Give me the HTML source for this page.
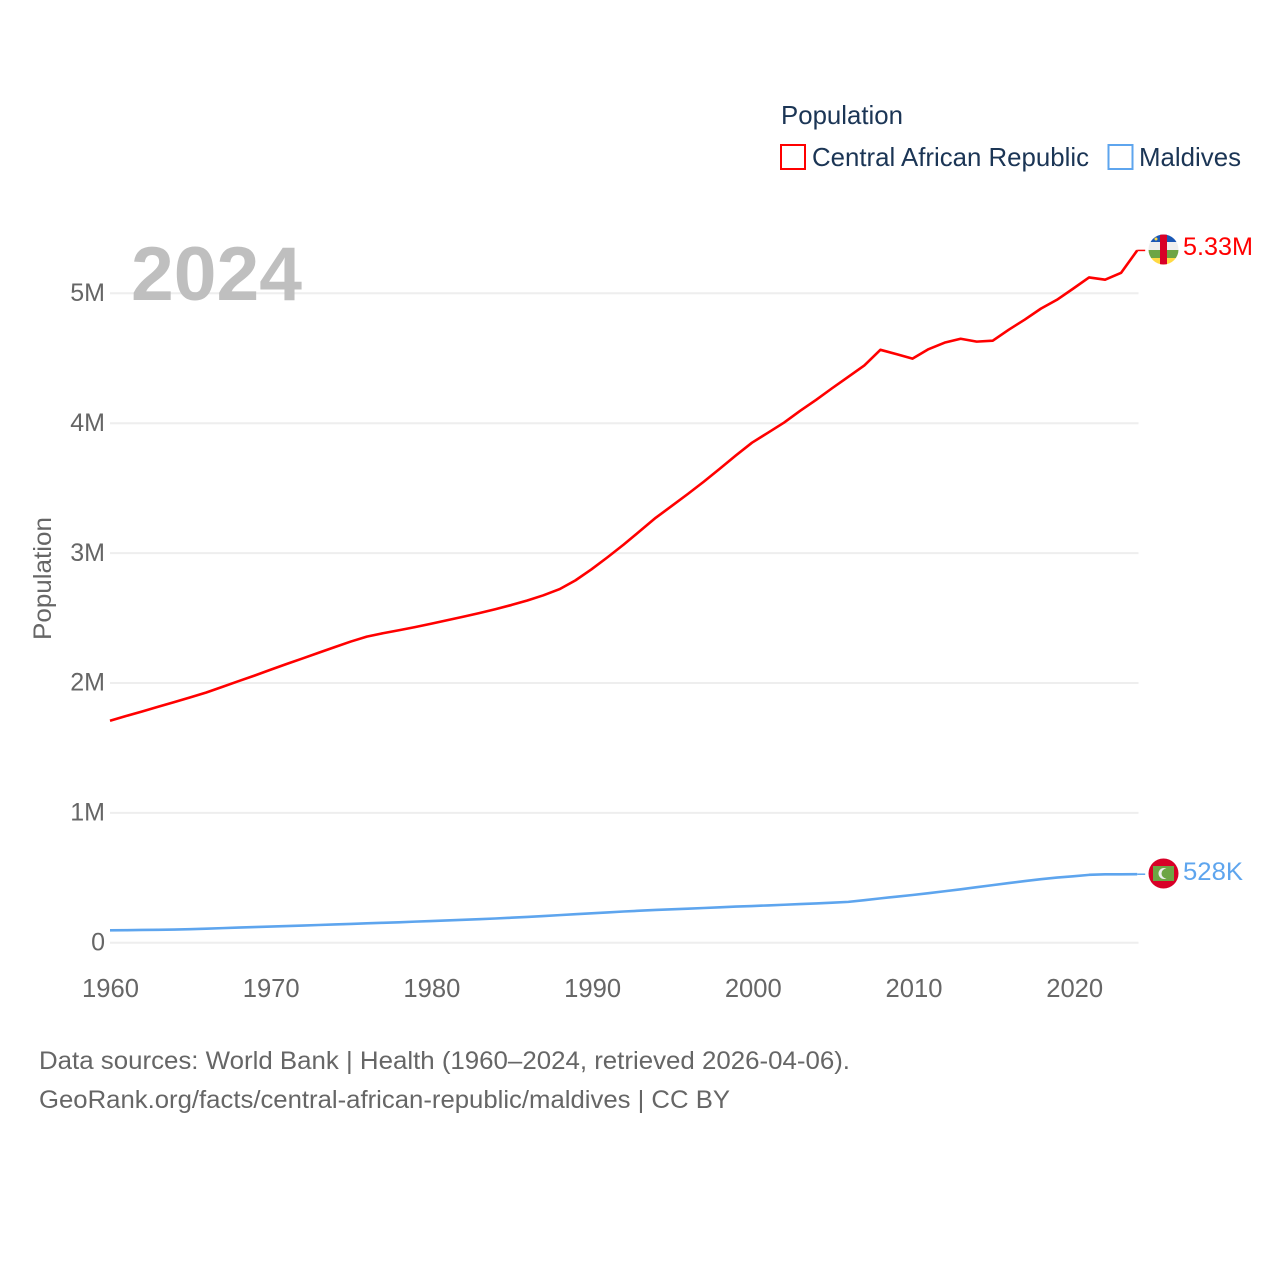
<!DOCTYPE html>
<html>
<head>
<meta charset="utf-8">
<title>Population: Central African Republic and Maldives</title>
<style>
html,body{margin:0;padding:0;background:#fff;width:1280px;height:1280px;overflow:hidden}
svg{display:block}
text{font-family:"Liberation Sans",sans-serif}
</style>
</head>
<body>
<svg id="chart" xmlns="http://www.w3.org/2000/svg" width="1280" height="1280" viewBox="0 0 1280 1280">
  <defs>
    <clipPath id="clip-caf"><circle cx="1163.5" cy="249.5" r="15"/></clipPath>
    <clipPath id="clip-mdv"><circle cx="1163.5" cy="873.5" r="15"/></clipPath>
  </defs>
  <rect width="1280" height="1280" fill="#fff"/>
  <g id="grid"></g>
  <g id="yticks"></g>
  <g id="xticks"></g>
  <text x="131" y="300" font-size="76" font-weight="700" fill="#bfbfbf" textLength="171" lengthAdjust="spacingAndGlyphs">2024</text>
  <text transform="translate(51,640) rotate(-90)" font-size="25" fill="#666" textLength="123" lengthAdjust="spacingAndGlyphs">Population</text>
  <g id="series"></g>

  <g>
    <text x="781" y="124" font-size="26" fill="#1b3555" textLength="122" lengthAdjust="spacingAndGlyphs">Population</text>
    <rect x="781" y="145" width="24" height="24" fill="#fff" stroke="#ff0000" stroke-width="2"/>
    <text x="812" y="166" font-size="26" fill="#1b3555" textLength="277" lengthAdjust="spacingAndGlyphs">Central African Republic</text>
    <rect x="1108.5" y="145" width="24" height="24" fill="#fff" stroke="#5ea5ee" stroke-width="2"/>
    <text x="1139" y="166" font-size="26" fill="#1b3555" textLength="102" lengthAdjust="spacingAndGlyphs">Maldives</text>
  </g>

  <g clip-path="url(#clip-caf)">
    <rect x="1148" y="234" width="31" height="8" fill="#1a57b5"/>
    <rect x="1148" y="242" width="31" height="8" fill="#eeeeee"/>
    <rect x="1148" y="250" width="31" height="8" fill="#6da544"/>
    <rect x="1148" y="258" width="31" height="7" fill="#ffda44"/>
    <rect x="1160" y="234" width="7" height="31" fill="#d80027"/>
    <circle cx="1156" cy="239" r="1.5" fill="#ffda44"/>
  </g>
  <g>
    <circle cx="1163.5" cy="873.5" r="15" fill="#d80027"/>
    <rect x="1153" y="866" width="21" height="15" fill="#6da544"/>
    <circle cx="1164" cy="873.5" r="5.5" fill="#eeeeee"/>
    <circle cx="1166.5" cy="873.5" r="5" fill="#6da544"/>
  </g>

  <text x="1183" y="255" font-size="25" fill="#ff0000" textLength="70" lengthAdjust="spacingAndGlyphs">5.33M</text>
  <text x="1183" y="880" font-size="25" fill="#5ea5ee" textLength="60" lengthAdjust="spacingAndGlyphs">528K</text>

  <text x="39" y="1069" font-size="25" fill="#666" textLength="811" lengthAdjust="spacingAndGlyphs">Data sources: World Bank | Health (1960–2024, retrieved 2026-04-06).</text>
  <text x="39" y="1108" font-size="25" fill="#666" textLength="691" lengthAdjust="spacingAndGlyphs">GeoRank.org/facts/central-african-republic/maldives | CC BY</text>
</svg>
<script>
const years = [1960,1961,1962,1963,1964,1965,1966,1967,1968,1969,1970,1971,1972,1973,1974,1975,1976,1977,1978,1979,1980,1981,1982,1983,1984,1985,1986,1987,1988,1989,1990,1991,1992,1993,1994,1995,1996,1997,1998,1999,2000,2001,2002,2003,2004,2005,2006,2007,2008,2009,2010,2011,2012,2013,2014,2015,2016,2017,2018,2019,2020,2021,2022,2023,2024];
const centralAfricanRepublic = [1.709,1.746,1.781,1.817,1.853,1.889,1.927,1.970,2.014,2.057,2.102,2.146,2.189,2.233,2.276,2.319,2.357,2.383,2.406,2.430,2.456,2.483,2.510,2.538,2.568,2.600,2.635,2.675,2.722,2.790,2.875,2.968,3.065,3.168,3.272,3.363,3.455,3.550,3.650,3.752,3.850,3.927,4.005,4.095,4.180,4.270,4.357,4.445,4.565,4.532,4.497,4.570,4.620,4.650,4.628,4.635,4.720,4.798,4.882,4.950,5.035,5.122,5.105,5.158,5.330];
const maldives = [0.096,0.097,0.099,0.100,0.102,0.105,0.109,0.113,0.117,0.121,0.125,0.129,0.133,0.137,0.141,0.145,0.150,0.154,0.158,0.163,0.167,0.172,0.177,0.182,0.187,0.193,0.199,0.206,0.213,0.220,0.227,0.234,0.241,0.247,0.253,0.258,0.263,0.268,0.273,0.279,0.283,0.288,0.293,0.298,0.303,0.309,0.315,0.328,0.342,0.355,0.368,0.382,0.397,0.412,0.428,0.444,0.460,0.475,0.490,0.502,0.512,0.523,0.527,0.527,0.528];
const yTickValues = [0,1,2,3,4,5];
const yTickLabels = ['0','1M','2M','3M','4M','5M'];
const xTickValues = [1960,1970,1980,1990,2000,2010,2020];

const NS = 'http://www.w3.org/2000/svg';
function xScale(year){ return 110 + (year - 1960) * 16.05; }
function yScale(value){ return 942.8 - value * 129.9; }
function make(tag, attrs, parent, content){
  const el = document.createElementNS(NS, tag);
  for (const k in attrs) el.setAttribute(k, attrs[k]);
  if (content !== undefined) el.textContent = content;
  parent.appendChild(el);
  return el;
}
const grid = document.getElementById('grid');
const yticks = document.getElementById('yticks');
const xticks = document.getElementById('xticks');
const seriesGroup = document.getElementById('series');

yTickValues.forEach(function(v, i){
  const line = make('line', {x1:110, x2:1138.5, y1:yScale(v), y2:yScale(v), stroke:'#eeeeee', 'stroke-width':2}, grid);
  
  
  const label = make('text', {x:105, y:yScale(v)+7.7, 'text-anchor':'end', 'font-size':25, fill:'#666'}, yticks, yTickLabels[i]);
  
  
});
xTickValues.forEach(function(v){
  const label = make('text', {x:xScale(v) + 0.5 + (v - 1960) * 0.02, y:997, 'text-anchor':'middle', 'font-size':25.6, fill:'#666'}, xticks, String(v));
  
  
});
function drawSeries(values, color, name){
  const pts = values.map(function(v, i){ return xScale(years[i]).toFixed(2) + ',' + yScale(v).toFixed(2); });
  const line = make('polyline', {points:pts.join(' '), fill:'none', stroke:color, 'stroke-width':2.6, 'stroke-linejoin':'round'}, seriesGroup);
  
  
  const last = values[values.length - 1];
  const lastX = xScale(years[years.length - 1]);
  const conn = make('line', {x1:lastX, x2:lastX + 8, y1:yScale(last), y2:yScale(last), stroke:color, 'stroke-width':1.5}, seriesGroup);
  
  
}
drawSeries(maldives, '#5ea5ee', 'line-maldives');
drawSeries(centralAfricanRepublic, '#ff0000', 'line-central-african-republic');
</script>
</body>
</html>
